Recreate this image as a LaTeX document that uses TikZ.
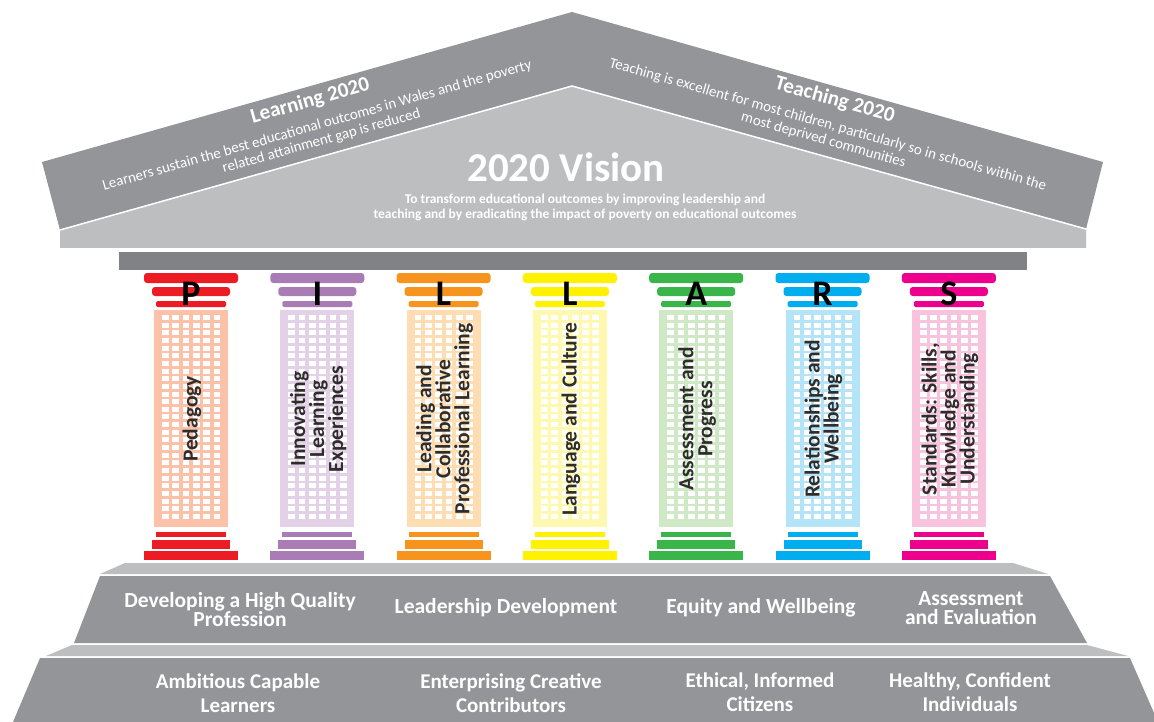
\documentclass[tikz,border=0pt]{standalone}
\usepackage{fontspec}
\setmainfont{Carlito}
\definecolor{roofdark}{HTML}{939598}
\definecolor{rooflight}{HTML}{BCBEC0}
\definecolor{beam}{HTML}{808285}
\definecolor{pilltxt}{HTML}{2E2D2C}
\definecolor{capP}{HTML}{ED1C24}\definecolor{shP}{HTML}{FBC1A9}
\definecolor{capI}{HTML}{A97CB6}\definecolor{shI}{HTML}{E3D1E7}
\definecolor{capLa}{HTML}{F7941D}\definecolor{shLa}{HTML}{FEDDB3}
\definecolor{capLb}{HTML}{FFF200}\definecolor{shLb}{HTML}{FFF8B0}
\definecolor{capA}{HTML}{3AB54A}\definecolor{shA}{HTML}{CFE8C6}
\definecolor{capR}{HTML}{00AEEF}\definecolor{shR}{HTML}{B5E3F8}
\definecolor{capS}{HTML}{EC008C}\definecolor{shS}{HTML}{F8C3DD}
\newcommand{\fsz}[2]{\fontsize{#1}{#2}\selectfont}
\newcommand{\rooftitle}[1]{{\fsz{21}{21}\bfseries #1}}
\begin{document}
\begin{tikzpicture}[x=1pt,y=-1pt,
  wtxt/.style={text=white, inner sep=0pt, align=center},
  tiertxt/.style={wtxt, font=\fsz{21.5}{19}\bfseries},
  lowtxt/.style={wtxt, font=\fsz{21}{24}\bfseries},
  roofblock/.style={wtxt, font=\fsz{15}{16}},
  pilltext/.style={rotate=90, text=pilltxt, inner sep=0pt, align=center, font=\fsz{21.5}{19}\bfseries},
  pillletter/.style={anchor=base, inner sep=0pt, font=\fsz{36}{36}\bfseries, text=black}]
\useasboundingbox (0,0) rectangle (1154,722);
\fill[white] (0,0) rectangle (1154,722);
\clip (0,0) rectangle (1154,722);

% roof
\fill[roofdark] (42,162) -- (572,12) -- (1103,162) -- (1086,229) -- (572,86) -- (60,230) -- cycle;
\fill[rooflight] (60,230) -- (572,86) -- (1086,229) -- (1086,248) -- (60,248) -- cycle;
\draw[white, line width=1.5pt] (60,230) -- (572,86) -- (1086,229);
% beam
\fill[beam] (119,252) rectangle (1027,270);

% roof texts
\node[roofblock, rotate=15.8] (learn) at (315.5,120) {\rooftitle{Learning 2020}\\[8pt]Learners sustain the best educational outcomes in Wales and the poverty\\related attainment gap is reduced};
\node[roofblock, rotate=-15.8] (teach) at (829.5,119) {\rooftitle{Teaching 2020}\\[8pt]Teaching is excellent for most children, particularly so in schools within the\\most deprived communities};
\node[wtxt, font=\fsz{41}{41}\bfseries] (vis) at (566,167) {2020 Vision};
\node[wtxt, font=\fsz{13.5}{15}\bfseries] (visT) at (585,207) {To transform educational outcomes by improving leadership and\\teaching and by eradicating the impact of poverty on educational outcomes};

% tiers
\fill[rooflight] (125,563) -- (1013,563) -- (1048,574) -- (100,574) -- cycle;
\fill[roofdark] (100,576) -- (1050,576) -- (1087,643) -- (74,643) -- cycle;
\fill[rooflight] (72,645) -- (1087,645) -- (1128,656) -- (46,656) -- cycle;
\fill[roofdark] (40,658) -- (1130,658) -- (1158,722) -- (13,722) -- cycle;

\node[tiertxt] (t1) at (240,609.5) {Developing a High Quality\\Profession};
\node[tiertxt] (t2) at (506,608) {Leadership Development};
\node[tiertxt] (t3) at (761,608) {Equity and Wellbeing};
\node[tiertxt] (t4) at (971,608.5) {Assessment\\and Evaluation};
\node[lowtxt] (b1) at (238,693) {Ambitious Capable\\Learners};
\node[lowtxt] (b2) at (511,693) {Enterprising Creative\\Contributors};
\node[lowtxt] (b3) at (760,692) {Ethical, Informed\\Citizens};
\node[lowtxt] (b4) at (970,692) {Healthy, Confident\\Individuals};

% pillars
\foreach \i/\L/\cc/\sc/\T in {
  0/P/capP/shP/{Pedagogy},
  1/I/capI/shI/{Innovating\\Learning\\Experiences},
  2/L/capLa/shLa/{Leading and\\Collaborative\\Professional Learning},
  3/L/capLb/shLb/{Language and Culture},
  4/A/capA/shA/{Assessment and\\Progress},
  5/R/capR/shR/{Relationships and\\Wellbeing},
  6/S/capS/shS/{Standards: Skills,\\Knowledge and\\Understanding}}
{
  \pgfmathsetmacro\cx{191+126.3*\i}
  \fill[\cc, rounded corners=3pt] (\cx-47,273) rectangle (\cx+47,283);
  \fill[\cc, rounded corners=3pt] (\cx-39,287) rectangle (\cx+39,296);
  \fill[\cc, rounded corners=1.5pt] (\cx-35,301) rectangle (\cx+35,307);
  \fill[\sc] (\cx-37,310) rectangle (\cx+37,527);
  \foreach \r in {0,...,26}{
    \foreach \c in {0,...,5}{
      \fill[white] (\cx-29+\c*10.3,315+\r*7.65) rectangle ++(6.7,5);
    }
  }
  \fill[\cc] (\cx-35,532) rectangle (\cx+35,537);
  \fill[\cc] (\cx-39,540) rectangle (\cx+39,549);
  \fill[\cc] (\cx-47,551) rectangle (\cx+47,560);
  \node[pillletter] (let\i) at (\cx,305) {\L};
  \node[pilltext] (txt\i) at (\cx+1,419) {\T};
}
\end{tikzpicture}
\end{document}
